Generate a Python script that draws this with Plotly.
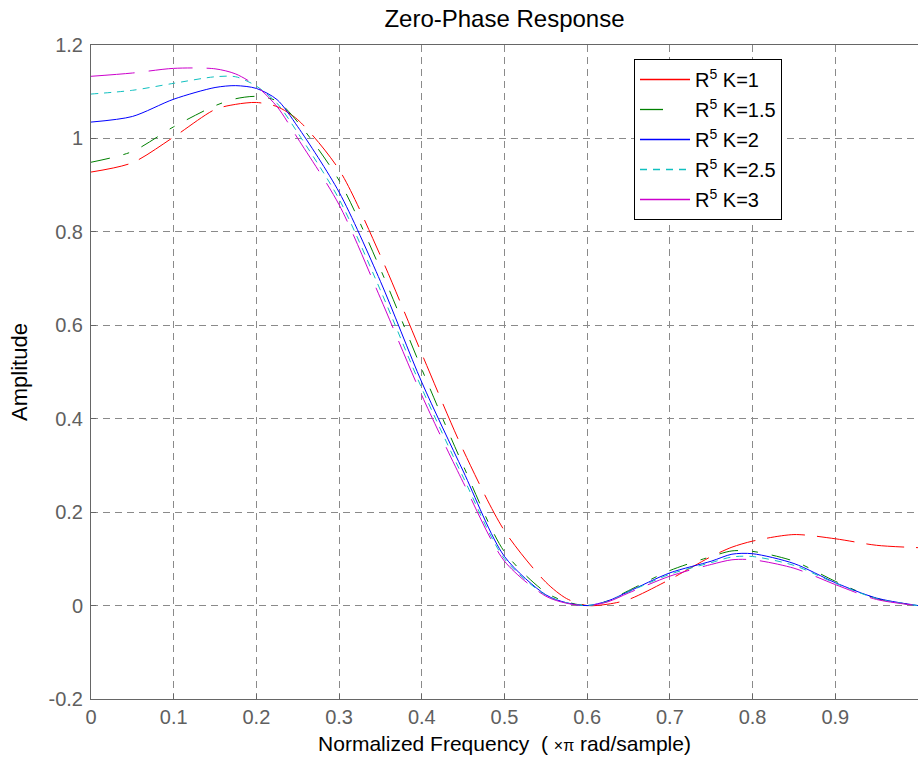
import plotly.graph_objects as go

# ---- data ----
freq = [0, 0.05, 0.1, 0.15, 0.175, 0.2, 0.225, 0.25, 0.3, 0.35, 0.4, 0.45, 0.5,
        0.55, 0.575, 0.6, 0.625, 0.65, 0.7, 0.75, 0.775, 0.8, 0.85, 0.9, 0.95, 1.0]

amp_k1 = [0.928, 0.948, 1.003, 1.062, 1.073, 1.077, 1.068, 1.040, 0.933, 0.749, 0.539, 0.333, 0.160,
          0.050, 0.015, 0.000, 0.003, 0.013, 0.056, 0.105, 0.125, 0.138, 0.152, 0.143, 0.129, 0.124]
amp_k15 = [0.949, 0.972, 1.025, 1.070, 1.085, 1.090, 1.080, 1.035, 0.910, 0.720, 0.506, 0.300, 0.115,
           0.028, 0.008, 0.000, 0.010, 0.032, 0.075, 0.105, 0.117, 0.116, 0.095, 0.052, 0.015, 0.000]
amp_k2 = [1.035, 1.047, 1.084, 1.109, 1.113, 1.107, 1.083, 1.025, 0.885, 0.694, 0.478, 0.288, 0.105,
          0.023, 0.006, 0.000, 0.010, 0.030, 0.070, 0.095, 0.110, 0.111, 0.090, 0.049, 0.016, 0.000]
amp_k25 = [1.095, 1.103, 1.118, 1.132, 1.132, 1.112, 1.075, 1.012, 0.870, 0.675, 0.465, 0.275, 0.100,
           0.022, 0.006, 0.000, 0.009, 0.029, 0.067, 0.092, 0.104, 0.105, 0.086, 0.048, 0.015, 0.000]
amp_k3 = [1.133, 1.140, 1.150, 1.149, 1.138, 1.112, 1.068, 1.000, 0.858, 0.658, 0.450, 0.264, 0.095,
          0.020, 0.005, 0.000, 0.008, 0.027, 0.063, 0.088, 0.098, 0.098, 0.080, 0.045, 0.013, 0.000]

series_names = ["R<sup>5</sup> K=1", "R<sup>5</sup> K=1.5", "R<sup>5</sup> K=2",
                "R<sup>5</sup> K=2.5", "R<sup>5</sup> K=3"]
series_vals = [amp_k1, amp_k15, amp_k2, amp_k25, amp_k3]

x_ticks = [0, 0.1, 0.2, 0.3, 0.4, 0.5, 0.6, 0.7, 0.8, 0.9]
x_labels = ["0", "0.1", "0.2", "0.3", "0.4", "0.5", "0.6", "0.7", "0.8", "0.9"]
y_ticks = [-0.2, 0, 0.2, 0.4, 0.6, 0.8, 1.0, 1.2]
y_labels = ["-0.2", "0", "0.2", "0.4", "0.6", "0.8", "1", "1.2"]

# ---- styles ----
colors = ["#ff0000", "#008000", "#0000ff", "#10c0c0", "#cc00cc"]
plot_dash = ["38px,12px", "19px,14px,6px,14px", "solid", "7px,6px", "44px,14px"]
legend_dash = ["solid", "23px,30px", "solid", "7px,6px", "solid"]

FONT = "Liberation Sans, Arial, sans-serif"

fig = go.Figure()
for vals, c, d in zip(series_vals, colors, plot_dash):
    fig.add_trace(go.Scatter(x=freq, y=vals, mode="lines", showlegend=False,
                             line=dict(color=c, width=1, dash=d, shape="spline", smoothing=0.8)))
for i, (name, c, d) in enumerate(zip(series_names, colors, legend_dash)):
    fig.add_trace(go.Scatter(x=[None], y=[None], mode="lines", name=name,
                             legendgroup=f"g{i}",
                             line=dict(color=c, width=1.3, dash=d)))

axis_common = dict(
    showline=True, linecolor="#666666", linewidth=1, mirror=True,
    ticks="inside", ticklen=5, tickcolor="#666666",
    showgrid=True, gridcolor="#8a8a8a", gridwidth=1, griddash="7px,5px",
    zeroline=False,
    tickfont=dict(family=FONT, size=20, color="#606060"),
)

fig.update_layout(
    width=918, height=764, autosize=False,
    margin=dict(l=91, r=0, t=45, b=65),
    paper_bgcolor="white", plot_bgcolor="white",
    font=dict(family=FONT, color="black"),
    title=dict(text="Zero-Phase Response", x=0.5, xref="paper", xanchor="center",
               y=1 - 19 / 764, yref="container", yanchor="middle",
               font=dict(family=FONT, size=24, color="black")),
    xaxis=dict(range=[0, 1], tickvals=x_ticks, ticktext=x_labels,
               title=dict(text="Normalized Frequency  ( <span style='font-size:16px'>×π</span> rad/sample)",
                          font=dict(family=FONT, size=21, color="black"), standoff=9),
               **axis_common),
    yaxis=dict(range=[-0.2, 1.2], tickvals=y_ticks, ticktext=y_labels,
               title=dict(text="Amplitude", font=dict(family=FONT, size=22, color="black"), standoff=14),
               ticklabelstandoff=3,
               **axis_common),
    legend=dict(x=(634 - 91) / 827, y=1 - (59 - 45) / 654, xanchor="left", yanchor="top",
                bgcolor="white", bordercolor="black", borderwidth=1,
                font=dict(family=FONT, size=20, color="black"),
                tracegroupgap=1, itemwidth=50),
)

fig.write_html("out.html")
